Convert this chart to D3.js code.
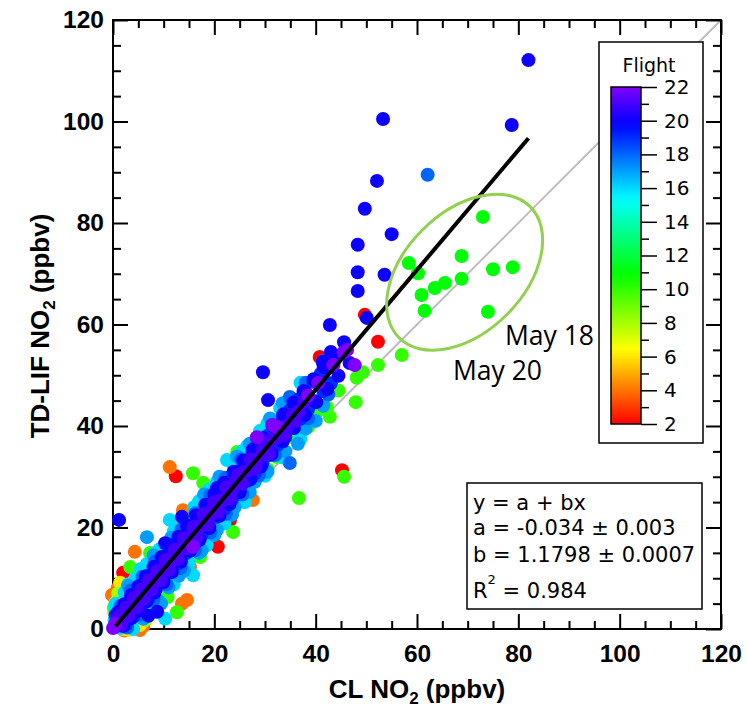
<!DOCTYPE html>
<html><head><meta charset="utf-8">
<script src="https://cdn.jsdelivr.net/npm/d3@7"></script>
<style>body{margin:0;background:#fff}svg{display:block}</style>
</head><body>
<svg id="c" width="747" height="711"></svg>
<script>
// ---------- data ----------
const axisTicks = [0, 20, 40, 60, 80, 100, 120];
const flightTicks = [2, 4, 6, 8, 10, 12, 14, 16, 18, 20, 22];
const fitA = -0.034, fitB = 1.1798, fitXmax = 82;
const statsLines = ["y = a + bx", "a = -0.034 \u00b1 0.003", "b = 1.1798 \u00b1 0.0007"];
const r2Value = "0.984";

// [CL NO2, TD-LIF NO2] per flight
const f2 = [[2.0,11.1],[12.4,30.1],[23.1,21.5],[20.7,16.2],[45.2,31.3],[40.8,53.6],[49.7,61.9],[52.3,56.6]];
const f4 = [[11.2,31.9],[27.6,25.4],[4.3,15.2],[14.6,5.7],[13.6,5.0],[15.2,12.2],[13.8,23.4],[0.4,6.1],[-0.2,6.7],[0.9,8.0],[4.7,0.4],[5.3,-0.2],[6.0,0.6],[2.2,-0.3],[1.2,6.6]];
const f6 = [[1.4,9.1],[0.5,5.2],[5.3,0.8],[0.2,3.3],[3.2,-0.2],[2.0,0.0]];
const f8 = [[1.0,7.0],[6.5,1.8]];
const f10 = [[57.0,54.0],[52.3,52.0],[49.3,50.6],[48.1,49.5],[47.9,44.7],[42.8,41.8],[38.5,39.8],[45.6,30.0],[36.7,25.8],[15.8,30.7],[17.8,28.8],[23.7,19.1],[3.4,12.2],[24.5,34.9],[7.3,15.0],[11.6,15.2],[17.2,14.2],[32.3,33.9],[42.2,43.7],[10.8,6.3],[12.6,3.3],[1.8,5.2],[4.5,2.2],[8.8,5.8],[19.5,20.5],[27.0,30.0],[30.5,31.5],[36.0,37.5],[40.5,43.0],[44.5,47.0],[21.5,29.8],[29.5,39.2],[9.0,14.5]];
const f11 = [[73.0,81.2],[68.8,73.5],[75.0,70.9],[78.9,71.3],[58.4,72.1],[60.2,70.1],[65.5,68.2],[63.5,67.2],[68.8,69.0],[60.9,65.8],[61.5,62.7],[74.0,62.5]];
const f13 = [[2.6,6.6],[6.0,3.3],[14.5,11.5],[25.5,25.5],[0.2,4.2]];
const f16 = [[0.5,5.0],[2.3,7.2],[4.5,10.0],[6.7,12.8],[9.2,15.7],[11.2,21.5],[13.0,19.8],[16.0,24.0],[19.0,27.5],[22.5,33.3],[25.5,35.0],[29.0,39.0],[33.0,43.5],[4.0,0.0],[10.3,2.0],[12.0,8.8],[15.8,10.6],[15.0,13.0],[18.5,16.5],[22.0,20.8],[26.0,25.0],[30.0,30.2],[33.5,33.8],[37.0,37.5],[7.5,3.2],
  [3.0,8.8],[5.5,11.8],[8.5,15.0],[12.0,19.2],[17.0,25.2],[20.5,29.0],[23.5,32.8],[26.5,36.0],[30.5,40.5],[37.0,48.5],[0.3,1.8],[1.5,0.2],[0.8,3.5]];
const f17 = [[6.7,18.1],[3.0,8.5],[8.0,14.5],[11.5,18.0],[14.5,21.5],[18.0,26.5],[21.0,30.0],[24.5,34.0],[27.0,36.5],[31.0,41.5],[9.5,5.0],[13.0,10.5],[17.5,15.5],[20.5,19.5],[24.0,24.0],[28.0,29.0],[36.5,36.5],[40.0,41.0],
  [6.0,2.0],[9.0,5.5],[11.0,8.2],[14.0,11.5],[17.0,15.0],[20.0,18.5],[23.5,22.5],[27.0,27.0],[30.5,31.0],[34.0,35.0],[38.0,39.5],[41.5,44.0],[33.5,44.5]];
const f18 = [[1.5,4.6],[3.5,7.6],[5.8,10.3],[8.3,13.3],[10.8,16.3],[13.5,19.6],[16.3,22.8],[19.2,26.3],[22.2,29.8],[25.3,33.4],[28.5,37.2],[34.9,45.7],[38.0,48.5],[41.5,52.8],[62.1,89.5],[2.8,0.3],[5.5,2.9],[8.0,5.8],[10.6,8.8],[13.3,12.0],[16.2,15.5],[19.2,19.0],[22.3,22.7],[25.5,26.5],[28.8,30.3],[32.0,34.3],[34.9,32.7],[38.5,41.5],[42.5,46.2]];
const f19 = [[0.5,2.7],[2.0,4.3],[3.5,6.2],[5.0,7.8],[6.5,9.8],[8.0,11.3],[9.5,13.3],[11.0,14.9],[12.5,16.9],[14.0,18.4],[15.5,20.4],[17.0,22.0],[18.5,23.9],[20.0,25.5],[21.5,27.5],[23.0,29.0],[24.5,31.0],[26.0,32.6],[27.5,34.6],[29.0,36.1],[30.5,38.1],[32.0,39.7],[33.5,41.6],[35.0,43.2],[36.5,45.2],[38.0,46.7],[39.5,48.7],[41.0,50.3],[42.5,52.3],[44.0,53.8],
  [2.5,0.9],[4.0,2.4],[5.5,4.4],[7.0,6.0],[8.5,7.9],[10.0,9.5],[11.5,11.5],[13.0,13.0],[14.5,15.0],[16.0,16.6],[17.5,18.6],[19.0,20.1],[20.5,22.1],[22.0,23.7],[23.5,25.6],[25.0,27.2],[26.5,29.2],[28.0,30.7],[29.5,32.7],[31.0,34.3],[32.5,36.3],[34.0,37.8],[35.5,39.8],[37.0,41.4],[38.5,43.3],[40.0,44.9],[41.5,46.9],[43.0,48.4]];
const f20 = [[1.0,3.3],[2.2,4.9],[3.6,6.7],[5.0,8.4],[6.5,10.4],[8.0,12.2],[9.6,14.2],[11.2,16.1],[12.9,18.2],[14.6,20.3],[16.4,22.4],[18.2,24.5],[20.0,26.6],[21.9,28.8],[23.8,31.0],[25.7,33.2],[27.6,35.4],[29.6,37.6],[31.6,40.0],[33.6,42.3],[35.6,44.6],[37.6,46.9],[39.6,49.2],[41.6,51.6],[43.6,53.8],[45.6,56.5],
  [2.0,0.6],[3.5,2.1],[5.0,3.6],[6.6,5.4],[8.2,7.2],[9.9,9.2],[11.6,11.2],[13.4,13.3],[15.2,15.4],[17.1,17.6],[19.0,19.9],[21.0,22.3],[23.0,24.6],[25.0,27.0],[27.1,29.5],[29.2,32.0],[31.3,34.5],[33.5,37.0],[35.7,39.6],[37.9,42.2],[40.1,44.7],[42.3,47.3],[44.5,49.9],[46.7,52.4],
  [82.0,112.1],[53.3,100.5],[78.7,99.3],[52.1,88.3],[49.7,82.8],[55.0,77.8],[48.3,75.7],[48.3,70.3],[48.3,66.6],[53.6,69.8],[42.8,59.9],[29.6,50.6],[30.6,45.1],[1.2,21.5],[41.4,52.6],[50.1,61.3],[43.0,54.6],[7.0,2.6],[8.7,3.4],[20.5,27.8],[13.6,22.1],[10.3,16.9]];
const f21 = [[0.3,0.4],[0.9,0.9],[1.4,1.8],[1.9,2.1],[2.4,3.0],[2.9,3.3],[3.4,4.2],[3.9,4.5],[4.4,5.4],[4.9,5.6],[5.4,6.6],[5.9,6.8],[6.4,7.8],[6.9,8.0],[7.4,9.0],[7.9,9.2],[8.5,10.3],[9.0,10.5],[9.6,11.6],[10.1,11.8],[10.7,12.9],[11.3,13.1],[11.9,14.3],[12.5,14.5],[13.1,15.7],[13.7,15.9],[14.3,17.1],[14.9,17.4],[15.6,18.6],[16.2,18.9],[16.9,20.2],[17.6,20.5],[18.3,21.9],[19.0,22.1],[19.7,23.6],[20.4,23.8],[21.1,25.3],[21.9,25.5],[22.7,27.2],[23.5,27.4],[24.3,29.1],[25.1,29.3],[25.9,31.0],[26.8,31.3],[27.7,33.1],[28.6,33.4],[29.5,35.2],[30.4,35.5],[31.4,37.4],[32.4,37.8],[33.4,39.7],[34.4,40.1],[35.5,42.2],[36.6,42.8],[37.8,44.8],
  [1.2,2.5],[2.6,4.2],[4.1,6.1],[5.6,7.8],[7.1,9.6],[8.7,11.4],[10.4,13.5],[12.2,15.6],[14.0,17.9],[15.9,20.1],[17.9,22.6],[20.0,25.0],[22.3,27.9],[24.7,30.4],[27.2,33.4],[29.9,36.6],
  [1.6,0.8],[3.1,2.6],[4.6,4.3],[6.1,6.0],[7.6,7.8],[9.3,9.6],[11.0,11.7],[12.8,13.8],[14.6,15.9],[16.5,18.2],[18.6,20.6],[20.8,23.1],[23.1,25.8],[25.5,28.6],[28.0,31.7],[30.8,34.6],[33.8,38.2],[36.0,41.0]];
const f22 = [[31.4,40.2],[28.4,37.8],[46.2,55.0],[47.7,52.0],[45.5,54.5],[32.3,39.8],[15.8,16.2],[38.5,46.0],[43.5,52.0],[40.5,48.5],[0.0,0.2],[0.4,1.0]];

const flightGroups = [[2,f2],[4,f4],[6,f6],[8,f8],[10,f10],[11,f11],[13,f13],[16,f16],[17,f17],[18,f18],[19,f19],[20,f20],[21,f21],[22,f22]];

// ---------- drawing ----------
const svg = d3.select("#c");
const x = d3.scaleLinear().domain([0,120]).range([113,721]);
const y = d3.scaleLinear().domain([0,120]).range([629,20]);
const hue = d3.scaleLinear().domain([2,22]).range([0,270]);
const color = f => d3.hsl(hue(f),1,0.5).formatHex();

const tickFont = "'Liberation Sans', Arial, sans-serif";
const plainFont = "'DejaVu Sans', sans-serif";
const minorVals = d3.range(0,121,5).filter(v => v % 20 !== 0);

// 1:1 line
svg.append("line").attr("x1",x(0)).attr("y1",y(0)).attr("x2",x(120)).attr("y2",y(120))
  .attr("stroke","#bdbdbd").attr("stroke-width",2);

// axes
function addAxis(axisFn, tr, withLabels){
  const sc = (axisFn===d3.axisBottom||axisFn===d3.axisTop) ? x : y;
  const gMaj = svg.append("g").attr("transform",tr)
    .call(axisFn(sc).tickValues(axisTicks).tickSize(-15).tickSizeOuter(0)
      .tickPadding(axisFn===d3.axisBottom?16:9).tickFormat(withLabels?d3.format("d"):""));
  gMaj.select(".domain").remove();
  gMaj.selectAll("line").attr("stroke","#000").attr("stroke-width",2);
  gMaj.selectAll("text").attr("font-family",tickFont).attr("font-weight","bold").attr("font-size",24.5).attr("fill","#000");
  const gMin = svg.append("g").attr("transform",tr)
    .call(axisFn(sc).tickValues(minorVals).tickSize(-8).tickFormat(""));
  gMin.select(".domain").remove();
  gMin.selectAll("line").attr("stroke","#000").attr("stroke-width",2);
}
addAxis(d3.axisBottom, `translate(0,${y(0)})`, true);
addAxis(d3.axisLeft, `translate(${x(0)},0)`, true);
addAxis(d3.axisTop, `translate(0,${y(120)})`, false);
addAxis(d3.axisRight, `translate(${x(120)},0)`, false);
svg.append("rect").attr("x",x(0)).attr("y",y(120)).attr("width",x(120)-x(0)).attr("height",y(0)-y(120))
  .attr("fill","none").attr("stroke","#000").attr("stroke-width",2);

// axis titles
const xt = svg.append("text").attr("x",417).attr("y",698).attr("text-anchor","middle")
  .attr("font-family",tickFont).attr("font-weight","bold").attr("font-size",26);
xt.append("tspan").text("CL NO");
xt.append("tspan").attr("font-size",17).attr("dy",6).text("2");
xt.append("tspan").attr("dy",-6).text(" (ppbv)");
const yt = svg.append("text").attr("transform","translate(49,326) rotate(-90)").attr("text-anchor","middle")
  .attr("font-family",tickFont).attr("font-weight","bold").attr("font-size",26);
yt.append("tspan").text("TD-LIF NO");
yt.append("tspan").attr("font-size",17).attr("dy",6).text("2");
yt.append("tspan").attr("dy",-6).text(" (ppbv)");

// colorbar legend box (white, hides 1:1 line)
svg.append("rect").attr("x",599).attr("y",42).attr("width",104).attr("height",401)
  .attr("fill","#fff").attr("stroke","#000").attr("stroke-width",1.5);

// points
const pts = [];
flightGroups.forEach(([f,arr]) => arr.forEach(p => pts.push({x:p[0],y:p[1],f})));
pts.sort((a,b)=>a.f-b.f);
svg.append("g").selectAll("circle").data(pts).join("circle")
  .attr("cx",d=>x(d.x)).attr("cy",d=>y(d.y)).attr("r",7).attr("fill",d=>color(d.f));

// fit line
svg.append("line").attr("x1",x(0.5)).attr("y1",y(fitA+fitB*0.5)).attr("x2",x(fitXmax)).attr("y2",y(fitA+fitB*fitXmax))
  .attr("stroke","#000").attr("stroke-width",4);

// ellipse annotation
const ec = [69.4,70.3];
svg.append("ellipse").attr("cx",0).attr("cy",0)
  .attr("rx",x(18.3)-x(0)).attr("ry",x(11.8)-x(0))
  .attr("transform",`translate(${x(ec[0])},${y(ec[1])}) rotate(-45)`)
  .attr("fill","none").attr("stroke","#92d050").attr("stroke-width",3);
svg.append("text").attr("x",505).attr("y",345).attr("font-family","'Open Sans', sans-serif").attr("font-size",26.5).text("May 18");
svg.append("text").attr("x",453).attr("y",380).attr("font-family","'Open Sans', sans-serif").attr("font-size",26.5).text("May 20");

// colorbar
const cb = d3.scaleLinear().domain([2,22]).range([424,87]);
const defs = svg.append("defs");
const grad = defs.append("linearGradient").attr("id","rb").attr("x1",0).attr("y1",1).attr("x2",0).attr("y2",0);
d3.range(2,22.01,0.5).forEach(f => grad.append("stop").attr("offset",(f-2)/20).attr("stop-color",color(f)));
svg.append("rect").attr("x",611).attr("y",cb(22)).attr("width",30).attr("height",cb(2)-cb(22))
  .attr("fill","url(#rb)").attr("stroke","#000").attr("stroke-width",1.5);
const cbMaj = svg.append("g").attr("transform","translate(641,0)")
  .call(d3.axisRight(cb).tickValues(flightTicks).tickSize(16).tickPadding(7).tickFormat(d3.format("d")));
cbMaj.select(".domain").remove();
cbMaj.selectAll("line").attr("stroke","#000").attr("stroke-width",1.5);
cbMaj.selectAll("text").attr("font-family",plainFont).attr("font-size",20).attr("fill","#000");
const cbMin = svg.append("g").attr("transform","translate(641,0)")
  .call(d3.axisRight(cb).tickValues(d3.range(3,22,2)).tickSize(8).tickFormat(""));
cbMin.select(".domain").remove();
cbMin.selectAll("line").attr("stroke","#000").attr("stroke-width",1.5);
svg.append("text").attr("x",649).attr("y",72).attr("text-anchor","middle")
  .attr("font-family",plainFont).attr("font-size",19).text("Flight");

// stats box
svg.append("rect").attr("x",467).attr("y",483).attr("width",235).attr("height",126)
  .attr("fill","#fff").attr("stroke","#000").attr("stroke-width",1.5);
const sBase = [510,535,562];
statsLines.forEach((t,i)=>svg.append("text").attr("x",473).attr("y",sBase[i])
  .attr("font-family",plainFont).attr("font-size",21).text(t));
const r2 = svg.append("text").attr("x",473).attr("y",598).attr("font-family",plainFont).attr("font-size",21);
r2.append("tspan").text("R");
r2.append("tspan").attr("font-size",13).attr("dy",-14).text("2");
r2.append("tspan").attr("dy",14).text(" = " + r2Value);
</script>
</body></html>
